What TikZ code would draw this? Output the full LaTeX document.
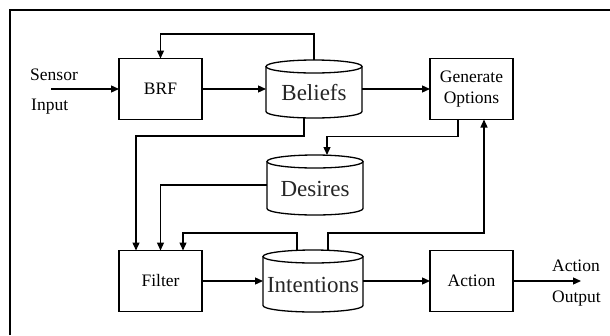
\documentclass[tikz,border=0pt]{standalone}
\usepackage{fontspec}
\setmainfont{Liberation Serif}
\usetikzlibrary{arrows.meta,calc}
\newcommand\drawcyl[3]{% node, half width, ellipse y radius
  \draw[ln] ($(#1.north west)+(0,#3)$) -- ($(#1.south west)+(0,-#3)$)
    arc[start angle=180,end angle=0,x radius=#2,y radius=#3]
    -- ($(#1.north east)+(0,#3)$);
  \draw[ln] ($(#1.north)+(0,#3)$) ellipse[x radius=#2,y radius=#3];
}
\begin{document}
\begin{tikzpicture}[x=1pt,y=-1pt,
  ln/.style={line width=1.3pt,black},
  arr/.style={line width=1.3pt,black,-{Triangle[length=8pt,width=7pt]}},
  boxnode/.style={draw,line width=1.3pt,inner sep=0pt,outer sep=0pt,minimum width=83pt,minimum height=61pt,align=center,font=\fontsize{17.5}{21}\selectfont},
  cylshape/.style={inner sep=0pt,outer sep=0pt},
  cyltext/.style={inner sep=0pt,font=\fontsize{23}{26}\selectfont,text=black!85},
  plain/.style={inner sep=0pt,font=\fontsize{17.5}{21}\selectfont}]
\useasboundingbox (0,0) rectangle (610,335);
\fill[white] (0,0) rectangle (610,335);
\draw[ln] (10,335) -- (10,10) -- (610,10);

\node[boxnode] (brf) at (160.5,89) {BRF};
\node[boxnode] (gen) at (471.5,89) {Generate\\Options};
\node[boxnode] (fil) at (160.5,281) {Filter};
\node[boxnode] (act) at (471.5,281) {Action};

\node[cylshape,minimum width=96pt,minimum height=58pt] (bel) at (314,89) {};
\node[cylshape,minimum width=96pt,minimum height=60pt] (des) at (315,185) {};
\node[cylshape,minimum width=100pt,minimum height=62pt] (int) at (313,281) {};
\drawcyl{bel}{48}{6.5}
\drawcyl{des}{48}{6.5}
\drawcyl{int}{50}{6.5}
\node[cyltext] (beltxt) at (314,93) {Beliefs};
\node[cyltext] (destxt) at (315,189) {Desires};
\node[cyltext] (inttxt) at (313,285) {Intentions};

\node[plain,anchor=base west] (sensor) at (30,80) {Sensor};
\node[plain,anchor=base west] (input) at (31,110) {Input};
\node[plain,anchor=base west] (aact) at (552,271) {Action};
\node[plain,anchor=base west] (aoutp) at (552,302) {Output};

\coordinate (sin) at (51,89);
\coordinate (aout) at (581,281);

\draw[arr] (sin) -- (brf.west);
\draw[arr] (brf.east) -- (bel.west);
\draw[arr] (bel.east) -- (gen.west);
\draw[arr] (bel.north) -- ++(0,-26) -| (brf.north);
\draw[arr] ([xshift=-10pt]bel.south) -- ++(0,18) -| ([xshift=-24.5pt]fil.north);
\draw[arr] ([xshift=-13.5pt]gen.south) -- ++(0,17) -| ([xshift=12pt]des.north);
\draw[arr] (des.west) -| (fil.north);
\draw[arr] ([xshift=-16pt]int.north) -- ++(0,-17) -| ([xshift=22.5pt]fil.north);
\draw[arr] ([xshift=15pt]int.north) -- ++(0,-17) -| ([xshift=12.5pt]gen.south);
\draw[arr] (fil.east) -- (int.west);
\draw[arr] (int.east) -- (act.west);
\draw[arr] (act.east) -- (aout);
\end{tikzpicture}
\end{document}
